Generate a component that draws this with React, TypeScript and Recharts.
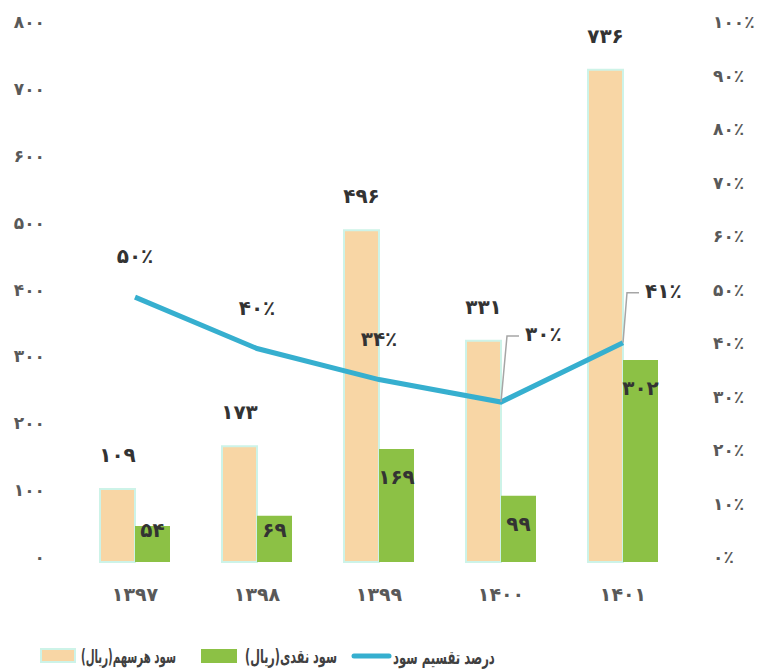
import { useLayoutEffect, useRef, useState } from 'react';
import { ComposedChart, Bar, Line, XAxis, YAxis, LabelList } from 'recharts';

const years = ['1397', '1398', '1399', '1400', '1401'];
const epsValues = [109, 173, 496, 331, 736];
const dpsValues = [54, 69, 169, 99, 302];
const payoutValues = [49.5, 39.9, 34.1, 29.9, 41.0];
const payoutLabels = [50, 40, 34, 30, 41];

const leftTicks = [0, 100, 200, 300, 400, 500, 600, 700, 800];
const rightTicks = [0, 10, 20, 30, 40, 50, 60, 70, 80, 90, 100];

const legendNames = ['سود هرسهم(ریال)', 'سود نقدی(ریال)', 'درصد تقسیم سود'];

const FA_DIGITS = '۰۱۲۳۴۵۶۷۸۹';
const toFa = (v: number | string): string =>
  String(v).replace(/[0-9]/g, (d) => FA_DIGITS[Number(d)]);
const rtl = (s: string) => '\u200F' + s + '\u200F';

const FONT = '"DejaVu Sans", sans-serif';
const EPS_COLOR = '#F8D6A5';
const EPS_BORDER = '#CDF3E8';
const DPS_COLOR = '#8CC145';
const LINE_COLOR = '#36AFCF';
const LABEL_COLOR = '#333333';
const AXIS_COLOR = '#595959';

const chartData = years.map((year, i) => ({
  year,
  eps: epsValues[i],
  dps: dpsValues[i],
  payout: payoutValues[i],
}));

const EpsLabel = (props: any) => {
  const { x, y, width, value } = props;
  return (
    <text
      x={x + width / 2}
      y={y - 34}
      textAnchor="middle"
      dominantBaseline="central"
      fontFamily={FONT}
      fontWeight="bold"
      fontSize={20}
      fill={LABEL_COLOR}
    >
      {toFa(value)}
    </text>
  );
};

const DpsLabel = (props: any) => {
  const { x, y, width, height, value } = props;
  const off = Math.min(28, Math.max(4, height - 32));
  return (
    <text
      x={x + width / 2}
      y={y + off}
      textAnchor="middle"
      dominantBaseline="central"
      fontFamily={FONT}
      fontWeight="bold"
      fontSize={20}
      fill={LABEL_COLOR}
    >
      {toFa(value)}
    </text>
  );
};

const PayoutLabel = (props: any) => {
  const { x, y, index } = props;
  const text = toFa(payoutLabels[index]) + '٪';
  const common = {
    fontFamily: FONT,
    fontWeight: 'bold' as const,
    fontSize: 20,
    fill: LABEL_COLOR,
    dominantBaseline: 'central' as const,
  };
  // the last two points have leader lines in the original
  if (index === 3 || index === 4) {
    const tx = x + (index === 4 ? 4 : 6);
    const ty = index === 3 ? y - 66 : y - 50;
    return (
      <g>
        <polyline
          points={`${x},${y} ${tx},${ty} ${tx + 12},${ty}`}
          fill="none"
          stroke="#A6A6A6"
          strokeWidth={1.5}
        />
        <text x={tx + 18} y={ty - 2} textAnchor="start" {...common}>
          {text}
        </text>
      </g>
    );
  }
  return (
    <text x={x} y={y - 41} textAnchor="middle" {...common}>
      {text}
    </text>
  );
};

// squeezes a legend text horizontally into the given width (the original font is narrower)
const FitText = ({ x, y, width, text }: { x: number; y: number; width: number; text: string }) => {
  const ref = useRef<SVGTextElement>(null);
  const [scale, setScale] = useState(1);
  useLayoutEffect(() => {
    const w = ref.current?.getBBox().width;
    if (w) setScale(width / w);
  }, [width]);
  return (
    <text
      ref={ref}
      transform={`translate(${x} ${y}) scale(${scale} 1)`}
      fontFamily={FONT}
      fontWeight="bold"
      fontSize={19}
      fill="#404040"
      dominantBaseline="central"
    >
      {rtl(text)}
    </text>
  );
};

const Legend = () => (
  <svg
    width={757}
    height={40}
    viewBox="0 630 757 40"
    style={{ position: 'absolute', left: 0, top: 630 }}
  >
    <rect x={41} y={649} width={34} height={13} fill={EPS_COLOR} stroke={EPS_BORDER} strokeWidth={2} />
    <FitText x={81} y={657} width={95} text={legendNames[0]} />
    <rect x={201} y={649} width={36} height={14} fill={DPS_COLOR} />
    <FitText x={245} y={657} width={92} text={legendNames[1]} />
    <line x1={354} y1={656} x2={389} y2={656} stroke={LINE_COLOR} strokeWidth={5} strokeLinecap="round" />
    <FitText x={393} y={657} width={102} text={legendNames[2]} />
  </svg>
);

const tickStyle = { fontFamily: FONT, fontWeight: 'bold', fontSize: 17, fill: AXIS_COLOR, dy: -5 };

export default function App() {
  return (
    <div style={{ position: 'absolute', top: 0, left: 0, width: 757, height: 670, background: '#fff' }}>
      <ComposedChart
        width={757}
        height={670}
        data={chartData}
        margin={{ top: 27, right: 0, bottom: 48, left: 0 }}
        barGap={0}
      >
        <XAxis
          dataKey="year"
          axisLine={false}
          tickLine={false}
          tickSize={0}
          tickMargin={26}
          height={60}
          tickFormatter={(v) => toFa(v)}
          tick={{ fontFamily: FONT, fontWeight: 'bold', fontSize: 19, fill: AXIS_COLOR }}
        />
        <YAxis
          yAxisId="left"
          orientation="left"
          width={74}
          domain={[0, 800]}
          ticks={leftTicks}
          axisLine={false}
          tickLine={false}
          tickSize={0}
          tickMargin={29}
          tickFormatter={(v) => toFa(v)}
          tick={tickStyle}
        />
        <YAxis
          yAxisId="right"
          orientation="right"
          width={73}
          domain={[0, 100]}
          ticks={rightTicks}
          axisLine={false}
          tickLine={false}
          tickSize={0}
          tickMargin={29}
          tickFormatter={(v) => toFa(v) + '٪'}
          tick={tickStyle}
        />
        <Bar
          yAxisId="left"
          dataKey="eps"
          barSize={35}
          fill={EPS_COLOR}
          stroke={EPS_BORDER}
          strokeWidth={2}
          isAnimationActive={false}
        >
          <LabelList dataKey="eps" content={EpsLabel} />
        </Bar>
        <Bar
          yAxisId="left"
          dataKey="dps"
          barSize={35}
          fill={DPS_COLOR}
          isAnimationActive={false}
        >
          <LabelList dataKey="dps" content={DpsLabel} />
        </Bar>
        <Line
          yAxisId="right"
          dataKey="payout"
          type="linear"
          stroke={LINE_COLOR}
          strokeWidth={5}
          dot={false}
          activeDot={false}
          isAnimationActive={false}
        >
          <LabelList dataKey="payout" content={PayoutLabel} />
        </Line>
      </ComposedChart>
      <Legend />
    </div>
  );
}
